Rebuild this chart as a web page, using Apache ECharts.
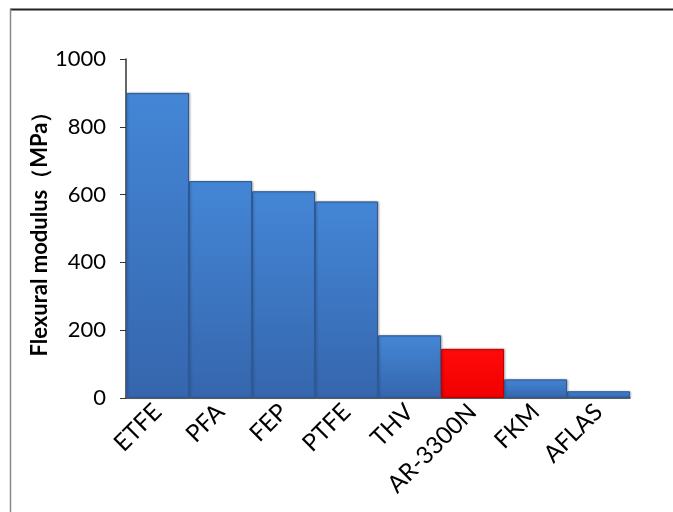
<!DOCTYPE html>
<html>
<head>
<meta charset="utf-8">
<script src="https://cdn.jsdelivr.net/npm/echarts@6/dist/echarts.min.js"></script>
<style>
html,body{margin:0;padding:0;background:#fff;}
#c{width:673px;height:512px;}
</style>
</head>
<body>
<div id="c"></div>
<script>
var categories = ['ETFE','PFA','FEP','PTFE','THV','AR-3300N','FKM','AFLAS'];
var values = [900, 640, 610, 580, 185, 145, 55, 20];
var highlightName = 'AR-3300N';
var yTicks = {min: 0, max: 1000, interval: 200};
var yName = 'Flexural modulus（MPa）';

var blue = {type:'linear',x:0,y:0,x2:0,y2:1,colorStops:[{offset:0,color:'#4486d6'},{offset:1,color:'#3566ad'}]};
var red = {type:'linear',x:0,y:0,x2:0,y2:1,colorStops:[{offset:0,color:'#ff0a0a'},{offset:1,color:'#f00000'}]};

var data = categories.map(function(c,i){
  var hi = c === highlightName;
  return {value: values[i], itemStyle: {color: hi ? red : blue, borderColor: hi ? '#c00000' : '#2f5a95'}};
});

var chart = echarts.init(document.getElementById('c'));
chart.setOption({
  animation: false,
  textStyle: {fontFamily: 'Lato'},
  graphic: [
    {type:'line', shape:{x1:10,y1:9.5,x2:673,y2:9.5}, style:{stroke:'#222',lineWidth:2}},
    {type:'line', shape:{x1:10.5,y1:9,x2:10.5,y2:512}, style:{stroke:'#888',lineWidth:1.5}}
  ],
  grid: {left:126, right:43, top:59, bottom:114},
  xAxis: {
    type:'category', data: categories,
    axisLine:{show:true, lineStyle:{color:'#333', width:1.5}},
    axisTick:{show:false},
    axisLabel:{rotate:45, color:'#000', fontSize:24, fontFamily:'Lato', margin:10, interval:0}
  },
  yAxis: {
    type:'value', min:yTicks.min, max:yTicks.max, interval:yTicks.interval,
    name: yName, nameLocation:'middle', nameGap:75, nameRotate:90, nameMoveOverlap:false,
    nameTextStyle:{fontSize:22, fontWeight:'bold', color:'#000', fontFamily:'Lato'},
    splitLine:{show:false},
    axisLine:{show:true, lineStyle:{color:'#333', width:1.5}},
    axisTick:{show:true, inside:false, length:6, lineStyle:{color:'#333'}},
    axisLabel:{color:'#000', fontSize:22, fontFamily:'Lato', margin:20, formatter:function(v){return String(v);}}
  },
  series: [{
    type:'bar', data: data, barCategoryGap:'0%',
    itemStyle:{borderWidth:1, shadowColor:'rgba(0,0,0,0.25)', shadowBlur:2, shadowOffsetX:1, shadowOffsetY:0}
  }]
});
</script>
</body>
</html>
